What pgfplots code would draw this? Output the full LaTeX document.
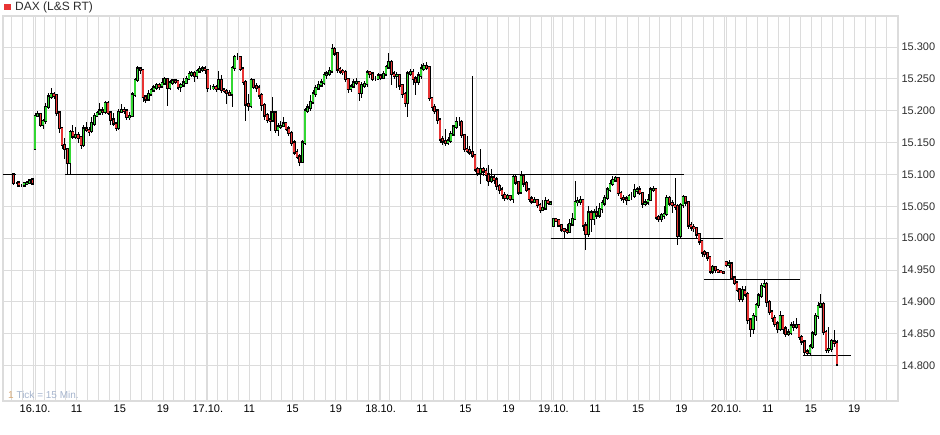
\documentclass[border=0pt]{standalone}
\usepackage{pgfplots}
\pgfplotsset{compat=1.18}
\usepackage{pgfplotstable}
\usepackage{fontspec}
\setmainfont{Liberation Sans}
\definecolor{gridc}{RGB}{220,220,220}
\definecolor{upc}{RGB}{50,215,50}
\definecolor{dnc}{RGB}{232,52,52}
\definecolor{txt}{RGB}{45,45,45}
\definecolor{tickc}{RGB}{165,180,205}
\definecolor{tickone}{RGB}{215,170,120}

\pgfplotstableread{
x o h l c
-1.85 15100 15100 15084 15087
-1.60 15087 15088 15085 15087
-1.35 15087 15088 15080 15083
-1.10 15083 15085 15081 15083
-0.85 15083 15087 15082 15086
-0.60 15086 15089 15084 15087
-0.35 15087 15093 15086 15090
-0.10 15092 15093 15084 15086
0.15 15140 15196 15138 15192
0.40 15192 15199 15190 15195
0.65 15195 15197 15175 15178
0.90 15178 15187 15172 15184
1.15 15184 15212 15180 15206
1.40 15206 15228 15203 15222
1.65 15222 15236 15219 15226
1.90 15226 15230 15218 15224
2.15 15224 15226 15192 15197
2.40 15197 15199 15165 15173
2.65 15173 15175 15140 15146
2.90 15146 15158 15125 15140
3.15 15140 15142 15100 15118
3.40 15118 15170 15100 15166
3.65 15166 15178 15156 15160
3.90 15160 15175 15155 15162
4.15 15162 15166 15150 15158
4.40 15158 15160 15140 15146
4.65 15146 15178 15143 15172
4.90 15172 15182 15166 15170
5.15 15170 15174 15160 15168
5.40 15168 15190 15165 15180
5.65 15180 15196 15176 15192
5.90 15192 15200 15190 15196
6.15 15196 15212 15194 15200
6.40 15200 15206 15193 15198
6.65 15198 15216 15195 15212
6.90 15212 15215 15193 15197
7.15 15197 15199 15178 15186
7.40 15186 15196 15176 15180
7.65 15180 15183 15168 15173
7.90 15173 15203 15170 15198
8.15 15198 15210 15196 15201
8.40 15201 15206 15195 15200
8.65 15200 15203 15186 15190
8.90 15190 15198 15186 15192
9.15 15192 15230 15190 15225
9.40 15225 15252 15222 15248
9.65 15248 15270 15245 15266
9.90 15266 15268 15258 15264
10.15 15264 15266 15214 15222
10.40 15222 15225 15212 15218
10.65 15218 15232 15215 15226
10.90 15226 15236 15223 15232
11.15 15232 15240 15229 15236
11.40 15236 15244 15233 15240
11.65 15240 15243 15232 15238
11.90 15238 15252 15235 15243
12.15 15243 15253 15240 15250
12.40 15250 15252 15208 15236
12.65 15236 15248 15232 15244
12.90 15244 15250 15240 15247
13.15 15247 15250 15242 15246
13.40 15246 15248 15233 15237
13.65 15237 15244 15230 15240
13.90 15240 15252 15238 15244
14.15 15244 15254 15242 15250
14.40 15250 15262 15248 15257
14.65 15257 15263 15253 15259
14.90 15259 15262 15245 15255
15.15 15255 15266 15250 15262
15.40 15262 15270 15260 15265
15.65 15265 15270 15261 15266
15.90 15266 15270 15258 15264
16.15 15264 15266 15230 15236
16.40 15236 15240 15232 15236
16.65 15236 15242 15233 15237
16.90 15237 15240 15230 15235
17.15 15235 15262 15232 15248
17.40 15248 15256 15228 15233
17.65 15233 15236 15227 15231
17.90 15231 15234 15210 15228
18.15 15228 15232 15223 15226
18.40 15226 15270 15206 15267
18.65 15267 15288 15262 15284
18.90 15284 15291 15280 15284
19.15 15284 15286 15262 15266
19.40 15266 15268 15240 15245
19.65 15245 15248 15184 15210
19.90 15210 15226 15200 15208
20.15 15208 15252 15204 15248
20.40 15248 15250 15234 15238
20.65 15238 15244 15230 15236
20.90 15236 15240 15218 15224
21.15 15224 15228 15200 15209
21.40 15209 15212 15186 15193
21.65 15193 15196 15180 15186
21.90 15186 15200 15168 15185
22.15 15185 15222 15182 15197
22.40 15197 15200 15165 15170
22.65 15170 15180 15160 15175
22.90 15175 15184 15172 15176
23.15 15176 15190 15174 15180
23.40 15180 15183 15168 15172
23.65 15172 15176 15160 15165
23.90 15165 15168 15145 15150
24.15 15150 15154 15130 15135
24.40 15135 15140 15124 15128
24.65 15128 15132 15114 15120
24.90 15120 15154 15118 15150
25.15 15150 15204 15146 15200
25.40 15200 15210 15196 15205
25.65 15205 15225 15200 15213
25.90 15213 15232 15210 15227
26.15 15227 15240 15222 15235
26.40 15235 15246 15232 15240
26.65 15240 15250 15237 15244
26.90 15244 15260 15240 15256
27.15 15256 15263 15250 15258
27.40 15258 15268 15255 15262
27.65 15262 15305 15260 15297
27.90 15297 15300 15286 15290
28.15 15290 15292 15260 15265
28.40 15265 15268 15258 15262
28.65 15262 15265 15256 15261
28.90 15261 15264 15245 15250
29.15 15250 15252 15228 15234
29.40 15234 15242 15230 15238
29.65 15238 15250 15236 15244
29.90 15244 15252 15240 15245
30.15 15245 15247 15215 15228
30.40 15228 15245 15220 15240
30.65 15240 15246 15236 15242
30.90 15242 15264 15238 15260
31.15 15260 15262 15252 15258
31.40 15258 15260 15247 15250
31.65 15250 15254 15246 15250
31.90 15250 15260 15248 15255
32.15 15255 15258 15249 15252
32.40 15252 15262 15250 15257
32.65 15257 15272 15254 15268
32.90 15268 15290 15265 15276
33.15 15276 15280 15240 15258
33.40 15258 15262 15250 15255
33.65 15255 15260 15235 15256
33.90 15256 15258 15232 15240
34.15 15240 15242 15220 15226
34.40 15226 15230 15206 15212
34.65 15212 15262 15190 15258
34.90 15258 15266 15255 15260
35.15 15260 15265 15240 15250
35.40 15250 15255 15225 15245
35.65 15245 15260 15240 15255
35.90 15255 15274 15250 15266
36.15 15266 15275 15262 15270
36.40 15270 15276 15264 15268
36.65 15268 15270 15215 15220
36.90 15220 15222 15200 15206
37.15 15206 15210 15195 15200
37.40 15200 15202 15180 15186
37.65 15186 15188 15150 15155
37.90 15155 15160 15146 15152
38.15 15152 15172 15145 15150
38.40 15150 15158 15146 15153
38.65 15153 15168 15150 15163
38.90 15163 15178 15160 15175
39.15 15175 15190 15172 15182
39.40 15182 15190 15176 15182
39.65 15182 15185 15158 15162
39.90 15162 15164 15136 15140
40.15 15140 15160 15134 15138
40.40 15138 15145 15130 15135
40.65 15135 15255 15126 15130
40.90 15130 15132 15104 15108
41.15 15108 15112 15098 15103
41.40 15103 15140 15085 15108
41.65 15108 15112 15098 15105
41.90 15105 15110 15090 15100
42.15 15100 15115 15082 15090
42.40 15090 15108 15086 15095
42.65 15095 15100 15085 15092
42.90 15092 15096 15075 15082
43.15 15082 15085 15070 15076
43.40 15076 15080 15062 15068
43.65 15068 15072 15058 15063
43.90 15063 15070 15060 15066
44.15 15066 15068 15058 15062
44.40 15062 15100 15055 15096
44.65 15096 15100 15084 15088
44.90 15088 15090 15068 15072
45.15 15072 15105 15070 15097
45.40 15097 15100 15080 15086
45.65 15086 15090 15072 15076
45.90 15076 15078 15056 15062
46.15 15062 15066 15054 15058
46.40 15058 15064 15055 15060
46.65 15060 15062 15048 15052
46.90 15052 15055 15040 15045
47.15 15045 15060 15043 15047
47.40 15047 15065 15045 15058
47.65 15058 15062 15052 15055
47.90 15055 15058 15053 15056
48.15 15020 15032 15018 15030
48.40 15030 15032 15025 15028
48.65 15028 15030 15018 15020
48.90 15020 15022 15010 15014
49.15 15014 15016 15000 15012
49.40 15012 15022 15006 15010
49.65 15010 15030 15008 15022
49.90 15022 15040 15020 15030
50.15 15030 15090 15028 15057
50.40 15057 15065 15050 15058
50.65 15058 15066 15052 15060
50.90 15060 15062 15012 15020
51.15 15020 15025 14982 15007
51.40 15007 15050 15002 15040
51.65 15040 15045 15010 15030
51.90 15030 15046 15020 15040
52.15 15040 15050 15030 15036
52.40 15036 15055 15032 15046
52.65 15046 15060 15040 15055
52.90 15055 15068 15050 15063
53.15 15063 15080 15060 15076
53.40 15076 15092 15072 15085
53.65 15085 15098 15082 15091
53.90 15091 15098 15088 15094
54.15 15094 15096 15066 15071
54.40 15071 15074 15058 15063
54.65 15063 15068 15055 15062
54.90 15062 15066 15052 15060
55.15 15060 15070 15058 15066
55.40 15066 15072 15060 15066
55.65 15066 15085 15063 15075
55.90 15075 15080 15070 15076
56.15 15076 15082 15068 15071
56.40 15071 15073 15048 15055
56.65 15055 15062 15050 15056
56.90 15056 15070 15052 15060
57.15 15060 15080 15058 15076
57.40 15076 15082 15072 15077
57.65 15077 15079 15028 15033
57.90 15033 15036 15025 15030
58.15 15030 15040 15026 15036
58.40 15036 15050 15030 15038
58.65 15038 15068 15035 15063
58.90 15063 15066 15050 15055
59.15 15055 15060 15040 15052
59.40 15052 15094 15045 15050
59.65 15050 15053 14990 15004
59.90 15004 15055 15000 15052
60.15 15052 15068 15048 15064
60.40 15064 15066 15050 15056
60.65 15056 15058 15015 15020
60.90 15020 15025 15012 15017
61.15 15017 15022 15010 15016
61.40 15016 15018 15000 15006
61.65 15006 15008 14990 14995
61.90 14995 14997 14970 14978
62.15 14978 14982 14970 14976
62.40 14976 14978 14964 14970
62.65 14970 14972 14944 14948
62.90 14948 14958 14944 14955
63.15 14955 14957 14946 14950
63.40 14950 14952 14945 14948
63.65 14948 14950 14945 14947
63.90 14947 14949 14944 14946
64.15 14962 14965 14955 14958
64.40 14958 14966 14954 14960
64.65 14960 14962 14935 14938
64.90 14938 14940 14926 14930
65.15 14930 14932 14915 14919
65.40 14919 14922 14900 14905
65.65 14905 14925 14900 14918
65.90 14918 14925 14908 14912
66.15 14912 14915 14865 14872
66.40 14872 14875 14845 14858
66.65 14858 14882 14850 14878
66.90 14878 14898 14870 14895
67.15 14895 14914 14890 14910
67.40 14910 14930 14906 14925
67.65 14925 14935 14922 14928
67.90 14928 14932 14892 14900
68.15 14900 14903 14880 14885
68.40 14885 14888 14868 14875
68.65 14875 14880 14860 14866
68.90 14866 14870 14852 14858
69.15 14858 14886 14855 14878
69.40 14878 14880 14850 14858
69.65 14858 14862 14845 14850
69.90 14850 14858 14846 14852
70.15 14852 14868 14848 14863
70.40 14863 14870 14855 14862
70.65 14862 14875 14858 14864
70.90 14864 14866 14840 14845
71.15 14845 14848 14832 14838
71.40 14838 14840 14816 14822
71.65 14822 14826 14815 14820
71.90 14820 14834 14816 14830
72.15 14830 14854 14826 14850
72.40 14850 14882 14846 14878
72.65 14878 14900 14874 14893
72.90 14893 14912 14890 14897
73.15 14897 14900 14848 14853
73.40 14853 14856 14820 14825
73.65 14825 14860 14820 14826
73.90 14826 14842 14822 14838
74.15 14838 14856 14830 14836
74.40 14836 14840 14800 14802
}\dax

\begin{document}
\begin{tikzpicture}
\useasboundingbox (0,0) rectangle (940pt,435pt);
\begin{axis}[
  at={(3pt,34pt)}, anchor=south west,
  scale only axis, width=895pt, height=385pt,
  xmin=-2.815, xmax=80.06, ymin=14744.6, ymax=15348.6,
  axis line style={draw=gridc, line width=1.2pt},
  tick style={draw=gridc},
  major tick length=0pt, minor tick length=0pt,
  xtick={0.15,4,8,12,16.15,20,24,28,32.15,36,40,44,48.15,52,56,60,64.15,68,72,76},
  xticklabels={16.10.,11,15,19,17.10.,11,15,19,18.10.,11,15,19,19.10.,11,15,19,20.10.,11,15,19},
  minor xtick={-2,-1,...,80},
  ytick={14800,14850,...,15300},
  scaled y ticks=false,
  yticklabel pos=right,
  xmajorgrids, xminorgrids, ymajorgrids,
  major grid style={draw=gridc, line width=0.9pt},
  minor grid style={draw=gridc, line width=0.9pt},
  xticklabel style={font=\fontsize{11}{13}\selectfont, text=black},
  yticklabel style={font=\fontsize{11}{13}\selectfont, text=txt,
    /pgf/number format/.cd, fixed, precision=0, 1000 sep={.}, assume math mode=true},
]
% support / resistance lines
\addplot[black, line width=0.9pt] coordinates {(-2.815,15100) (-1.6,15100)};
\addplot[black, line width=0.9pt] coordinates {(2.93,15100) (60.2,15100)};
\addplot[black, line width=0.9pt] coordinates {(47.9,15000) (63.9,15000)};
\addplot[black, line width=0.9pt] coordinates {(62.1,14935) (71.0,14935)};
\addplot[black, line width=0.9pt] coordinates {(71.3,14816) (75.7,14816)};
% wicks
\addplot[draw=none, mark=none, error bars/.cd, y dir=both, y explicit, error mark=none,
  error bar style={draw=black, line width=0.75pt}]
  table[x=x, y expr={(\thisrow{h}+\thisrow{l})/2}, y error expr={(\thisrow{h}-\thisrow{l})/2}] {\dax};
% body outlines
\addplot[draw=none, mark=none, error bars/.cd, y dir=both, y explicit, error mark=none,
  error bar style={draw=black, line width=2.7pt, line cap=rect}]
  table[x=x, y expr={(\thisrow{o}+\thisrow{c})/2}, y error expr={abs(\thisrow{c}-\thisrow{o})/2}] {\dax};
% up bodies
\addplot[draw=none, mark=none, restrict expr to domain={\thisrow{c}-\thisrow{o}}{0.5:10000},
  error bars/.cd, y dir=both, y explicit, error mark=none,
  error bar style={draw=upc, line width=1.45pt}]
  table[x=x, y expr={(\thisrow{o}+\thisrow{c})/2}, y error expr={abs(\thisrow{c}-\thisrow{o})/2}] {\dax};
% down bodies
\addplot[draw=none, mark=none, restrict expr to domain={\thisrow{o}-\thisrow{c}}{0.5:10000},
  error bars/.cd, y dir=both, y explicit, error mark=none,
  error bar style={draw=dnc, line width=1.45pt}]
  table[x=x, y expr={(\thisrow{o}+\thisrow{c})/2}, y error expr={abs(\thisrow{c}-\thisrow{o})/2}] {\dax};
\node[anchor=base west, inner sep=0pt, font=\fontsize{10}{12}\selectfont, text=tickc,
  xshift=5pt, yshift=2.5pt] at (rel axis cs:0,0) {\textcolor{tickone}{1} Tick = 15 Min.};
\end{axis}
\node[anchor=base west, inner sep=0pt, text=txt, font=\fontsize{12}{14}\selectfont]
  at (4pt,424.5pt) {\textcolor{dnc}{\rule{6.5pt}{6.5pt}}\hspace{4.5pt}DAX (L\&S RT)};
\end{tikzpicture}
\end{document}
